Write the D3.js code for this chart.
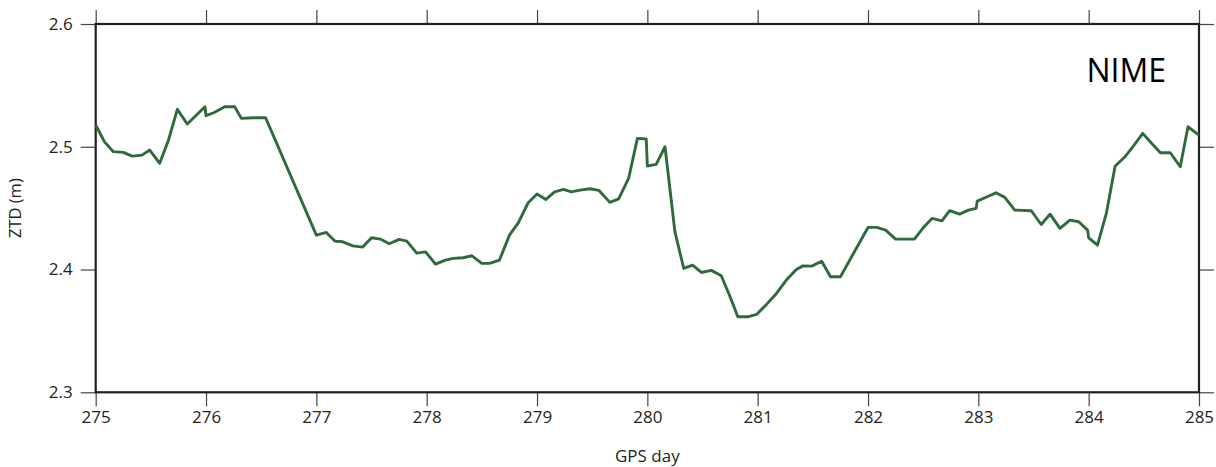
<!DOCTYPE html>
<html><head><meta charset="utf-8">
<script src="https://cdn.jsdelivr.net/npm/d3@7"></script>
<style>html,body{margin:0;padding:0;background:#fff;}svg{display:block;}</style>
</head><body>
<svg id="c" width="1216" height="467"></svg>
<script>
const days = [275.0,275.08,275.16,275.25,275.33,275.42,275.49,275.58,275.66,275.74,275.83,275.99,276.0,276.07,276.17,276.26,276.32,276.43,276.54,
277.0,277.09,277.17,277.24,277.33,277.42,277.5,277.58,277.66,277.75,277.82,277.91,277.99,278.08,278.17,278.24,278.33,278.41,278.5,278.57,278.66,278.75,278.83,278.92,279.0,
279.08,279.16,279.24,279.31,279.39,279.48,279.56,279.66,279.74,279.83,279.91,279.99,280.0,280.08,280.16,280.25,280.33,280.41,280.49,280.58,280.67,280.75,280.82,280.91,280.99,
281.08,281.17,281.26,281.35,281.41,281.49,281.58,281.66,281.75,
282.0,282.08,282.16,282.25,282.42,282.5,282.58,282.67,282.74,282.83,282.91,282.98,282.99,283.08,283.16,283.24,283.33,283.48,283.57,283.65,283.74,283.83,283.91,283.99,284.0,
284.08,284.16,284.24,284.33,284.4,284.49,284.57,284.65,284.74,284.83,284.9,285.0];
const ztd = [2.5177,2.504,2.496,2.4954,2.4924,2.4932,2.4973,2.4865,2.5055,2.5305,2.5185,2.5326,2.5253,2.5277,2.5326,2.5326,2.5231,2.5236,2.5236,
2.428,2.4302,2.4231,2.4226,2.4193,2.4183,2.4259,2.4248,2.421,2.4245,2.4231,2.4134,2.4144,2.4044,2.4077,2.4091,2.4096,2.4112,2.405,2.405,2.4077,2.428,2.438,2.4544,2.4615,
2.4571,2.4633,2.4653,2.4633,2.4647,2.4658,2.4645,2.4547,2.4576,2.4742,2.5068,2.5063,2.4843,2.4857,2.5,2.4307,2.4009,2.4036,2.3976,2.3993,2.3949,2.3778,2.3615,2.3615,2.3634,
2.3716,2.3805,2.3914,2.4001,2.403,2.4028,2.4068,2.3941,2.3941,
2.4343,2.4343,2.4321,2.4248,2.4248,2.434,2.4416,2.4397,2.4479,2.4451,2.4484,2.4498,2.4557,2.4593,2.4625,2.4588,2.4484,2.4479,2.4367,2.4451,2.4335,2.4403,2.4389,2.4321,2.4258,
2.4199,2.4457,2.4843,2.4919,2.5,2.5109,2.5028,2.4951,2.4951,2.4837,2.5163,2.5095];
const xTicks = [275,276,277,278,279,280,281,282,283,284,285];
const yTicks = [2.3,2.4,2.5,2.6];
const station = "NIME";
const xTitle = "GPS day";
const yTitle = "ZTD (m)";

const svg = d3.select("#c");
const L = 95.7, R = 1199, T = 24, B = 392.3;
const x = d3.scaleLinear().domain([275,285]).range([L,R]);
const y = d3.scaleLinear().domain([2.3,2.6]).range([B,T]);
const font = "'Open Sans', sans-serif";
const tickColor = "#444";
const textColor = "#231f20";

function styleAxis(g, showLabels){
  g.select(".domain").remove();
  g.selectAll(".tick line").attr("stroke", tickColor).attr("stroke-width", 1.2);
  g.selectAll(".tick text").attr("font-family", font).attr("font-size", 17).attr("fill", textColor);
  if(!showLabels) g.selectAll(".tick text").remove();
}
svg.append("g").attr("transform",`translate(0,${B})`)
  .call(d3.axisBottom(x).tickValues(xTicks).tickFormat(d3.format("d")).tickSize(14).tickPadding(5))
  .call(g=>styleAxis(g,true));
svg.append("g").attr("transform",`translate(0,${T})`)
  .call(d3.axisTop(x).tickValues(xTicks).tickSize(14))
  .call(g=>styleAxis(g,false));
svg.append("g").attr("transform",`translate(${L},0)`)
  .call(d3.axisLeft(y).tickValues(yTicks).tickFormat(d3.format(".1f")).tickSize(15).tickPadding(8))
  .call(g=>styleAxis(g,true));
svg.append("g").attr("transform",`translate(${R},0)`)
  .call(d3.axisRight(y).tickValues(yTicks).tickSize(15))
  .call(g=>styleAxis(g,false));

svg.append("rect").attr("x",L).attr("y",T).attr("width",R-L).attr("height",B-T)
  .attr("fill","none").attr("stroke","#231f20").attr("stroke-width",2.2);

const pts = days.map((d,i)=>[d, ztd[i]]);
svg.append("path").datum(pts)
  .attr("d", d3.line().x(d=>x(d[0])).y(d=>y(d[1])))
  .attr("fill","none").attr("stroke","#2f6a3c").attr("stroke-width",2.9).attr("stroke-linejoin","round");

svg.append("text").attr("x",1166).attr("y",82).attr("text-anchor","end")
  .attr("font-family",font).attr("font-size",32).attr("fill","#000").text(station);
svg.append("text").attr("x",(L+R)/2).attr("y",462).attr("text-anchor","middle")
  .attr("font-family",font).attr("font-size",17).attr("fill",textColor).text(xTitle);
svg.append("text").attr("transform",`translate(21,${(T+B)/2}) rotate(-90)`).attr("text-anchor","middle")
  .attr("font-family",font).attr("font-size",16.5).attr("fill",textColor).text(yTitle);
</script>
</body></html>
